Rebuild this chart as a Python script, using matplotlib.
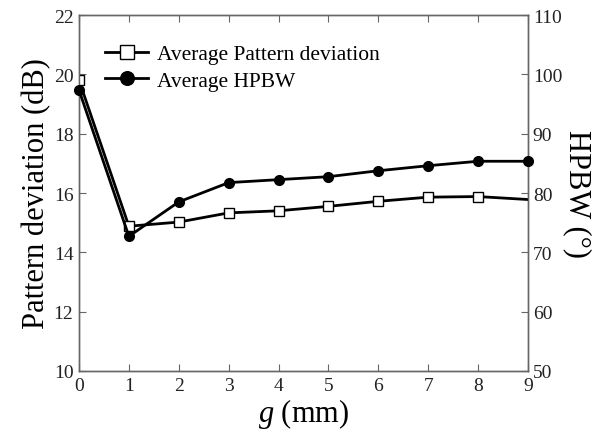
import numpy as np
import matplotlib
matplotlib.use("Agg")
import matplotlib.pyplot as plt

plt.rcParams['font.family'] = ['Liberation Serif', 'DejaVu Serif']
plt.rcParams['mathtext.fontset'] = 'custom'
plt.rcParams['mathtext.it'] = 'Liberation Serif:italic'

# data
g_mm = [0, 1, 2, 3, 4, 5, 6, 7, 8, 9]
pattern_dev = [19.8, 14.88, 15.02, 15.33, 15.40, 15.55, 15.72, 15.86, 15.88, 15.78]
hpbw = [97.35, 72.7, 78.5, 81.75, 82.25, 82.75, 83.75, 84.6, 85.35, 85.35]

spine_col = '#666666'

fig = plt.figure(figsize=(5.95, 4.39), dpi=100)
ax = fig.add_axes([79 / 595, 1 - 372 / 439, 449 / 595, 356 / 439])
ax2 = ax.twinx()

l1, = ax.plot(g_mm, pattern_dev, color='black', lw=2, marker='s', ms=7.5,
              mfc='white', mec='black', mew=1.0, markevery=list(range(9)),
              label='Average Pattern deviation', zorder=3)
l2, = ax2.plot(g_mm, hpbw, color='black', lw=2, marker='o', ms=7,
               label='Average HPBW', clip_on=False, zorder=3)

ax.set_xlim(0, 9)
ax.set_ylim(10, 22)
ax.set_yticks(np.arange(10, 23, 2))
ax.set_xticks(range(10))
ax2.set_ylim(50, 110)
ax2.set_yticks(np.arange(50, 111, 10))

for a in (ax, ax2):
    for s in a.spines.values():
        s.set_color(spine_col)
        s.set_linewidth(1.0)
ax.tick_params(axis='both', direction='in', labelsize=14, color=spine_col,
               length=5, top=True, pad=4, labelcolor='#222222')
ax2.tick_params(axis='y', direction='in', labelsize=14, color=spine_col,
                length=5, labelcolor='#222222')

ax.set_xlabel('$g$ (mm)', fontsize=22, labelpad=2)
ax.set_ylabel('Pattern deviation (dB)', fontsize=22, labelpad=2)
ax2.set_ylabel('HPBW (\u00b0)', fontsize=22, rotation=-90,
               ha='center', va='center')
ax2.yaxis.set_label_coords(1.11, 0.5)

ax.legend(handles=[l1, l2], loc='upper left', bbox_to_anchor=(0.025, 0.96),
          frameon=False, fontsize=15.5, handlelength=2.0, handletextpad=0.4,
          labelspacing=0.3, borderaxespad=0.3, markerscale=1.4)

fig.savefig('out.png', dpi=100)
